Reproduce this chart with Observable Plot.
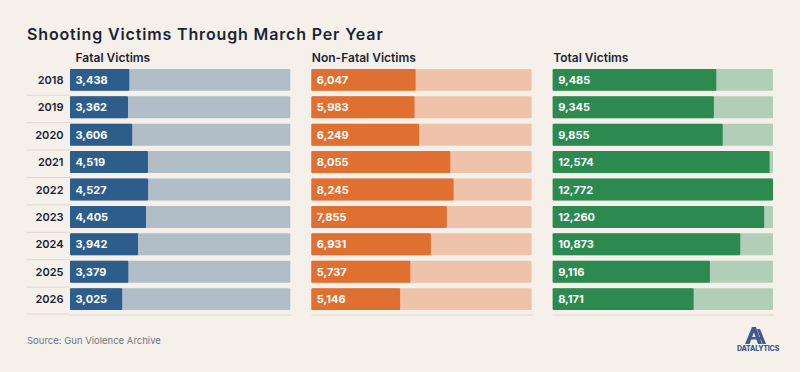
<!DOCTYPE html>
<html><head><meta charset="utf-8">
<script src="https://cdn.jsdelivr.net/npm/d3@7"></script>
<script src="https://cdn.jsdelivr.net/npm/@observablehq/plot@0.6"></script>
<style>
html,body{margin:0;padding:0;background:#f5f1ea;}
body{width:800px;height:372px;overflow:hidden;position:relative;font-family:Inter,"Noto Sans",sans-serif;}
#title{position:absolute;left:27px;top:26px;margin:0;font-size:16px;line-height:16px;font-weight:600;color:#1b2435;letter-spacing:0.85px;}
#chart{position:absolute;left:0;top:46px;}
#source{position:absolute;left:27px;top:335px;font-size:9.5px;line-height:12px;color:#707682;}
#logo{position:absolute;left:735px;top:327px;width:40px;height:26px;}
#logo .name{position:absolute;left:2px;top:18px;font-size:7px;line-height:8px;font-weight:800;color:#3f5a8b;letter-spacing:-0.2px;}
</style></head><body>
<h1 id="title">Shooting Victims Through March Per Year</h1>
<div id="chart"></div>
<div id="source">Source: Gun Violence Archive</div>
<div id="logo">
<svg width="40" height="18" viewBox="0 0 40 18" style="position:absolute;left:0;top:0">
<g fill="#3f5a8b">
<path d="M10 17 L17 0 L21 0 L14.5 17 Z"/>
<path d="M17 0 L21 0 L27 17 L23 17 Z"/>
<path d="M22 2 L25 2 L31 17 L27.5 17 Z"/>
<rect x="14" y="10" width="14" height="2.5"/>
</g>
</svg>
<div class="name">DATALYTICS</div>
</div>
<script>
const years = ["2018","2019","2020","2021","2022","2023","2024","2025","2026"];
const panels = ["Fatal Victims","Non-Fatal Victims","Total Victims"];
const fatal = [3438,3362,3606,4519,4527,4405,3942,3379,3025];
const nonFatal = [6047,5983,6249,8055,8245,7855,6931,5737,5146];
const total = [9485,9345,9855,12574,12772,12260,10873,9116,8171];
const darkColors = ["#2d5e8b","#e07031","#2c8a50"];
const lightColors = ["#b1bec8","#eec3a9","#b1cfb6"];
const series = [fatal, nonFatal, total];

const rows = panels.flatMap((p, i) => years.map((y, j) => ({
  panel: p, year: y, value: series[i][j], dark: darkColors[i], light: lightColors[i]
})));
const xMax = d3.max(total);
const fmt = d3.format(",");
const sep = "#dfd8cc";
const ink = "#1b2435";

const plot = Plot.plot({
  width: 800,
  height: 274,
  marginLeft: 70,
  marginRight: 27,
  marginTop: 18.5,
  marginBottom: 5.5,
  style: {background: "transparent", fontFamily: "Inter, 'Noto Sans', sans-serif", overflow: "visible"},
  fx: {domain: panels, paddingInner: 0.0871, paddingOuter: 0, axis: null, round: false},
  x: {domain: [0, xMax], axis: null},
  y: {domain: years, paddingInner: 0.2, paddingOuter: 0.16, round: false},
  color: {type: "identity"},
  marks: [
    Plot.frame({anchor: "bottom", stroke: sep}),
    Plot.axisY({ticks: years.slice(1), tickSize: 43, tickFormat: () => "", label: null, dy: -12.5, color: sep, strokeOpacity: 1}),
    Plot.axisY({ticks: years.slice(-1), tickSize: 43, tickFormat: () => "", label: null, dy: 14.5, color: sep, strokeOpacity: 1}),
    Plot.axisY({tickSize: 0, tickPadding: 7, label: null, fontSize: 11, fontWeight: 600, color: ink}),
    Plot.barX(rows, {fx: "panel", y: "year", x1: 0, x2: () => xMax, fill: "light", rx: 1}),
    Plot.barX(rows, {fx: "panel", y: "year", x: "value", fill: "dark", rx: 1}),
    Plot.text(rows, {fx: "panel", y: "year", frameAnchor: "left", text: d => fmt(d.value),
      textAnchor: "start", dx: 5, fill: "white", fontWeight: 700, fontSize: 11}),
    Plot.text(panels.slice(0, 1), {fx: d => d, text: d => d, frameAnchor: "top-left", lineAnchor: "bottom",
      textAnchor: "start", dx: 5, dy: -3.5, fontSize: 12, fontWeight: 600, fill: ink, letterSpacing: "0.2px"}),
    Plot.text(panels.slice(1), {fx: d => d, text: d => d, frameAnchor: "top-left", lineAnchor: "bottom",
      textAnchor: "start", dx: 0, dy: -3.5, fontSize: 12, fontWeight: 600, fill: ink})
  ]
});
document.getElementById("chart").appendChild(plot);
</script>
</body></html>
